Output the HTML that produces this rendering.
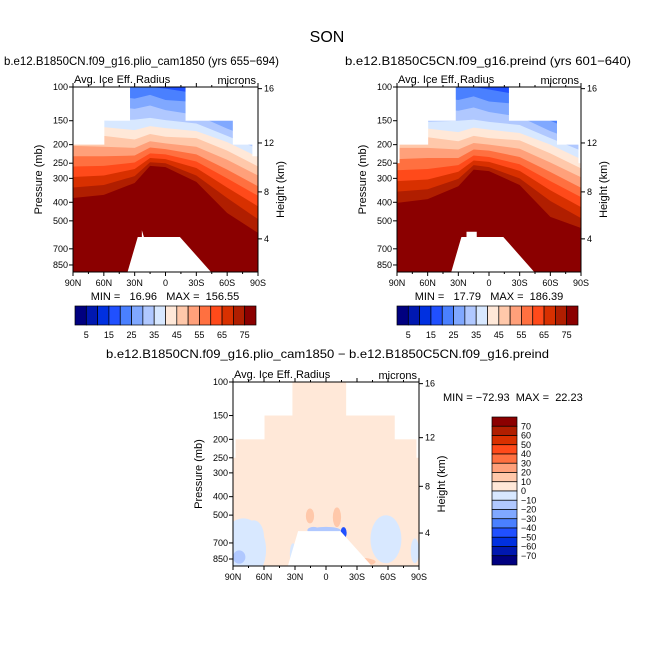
<!DOCTYPE html>
<html><head><meta charset="utf-8"><style>
body{margin:0;background:#fff}
svg{display:block;font-family:"Liberation Sans",sans-serif}
</style></head><body>
<svg id="c" width="654" height="654" viewBox="0 0 654 654" xmlns="http://www.w3.org/2000/svg">
<rect width="654" height="654" fill="#fff"/>
<text x="327" y="42" font-size="16" text-anchor="middle">SON</text>
<text x="4" y="65" font-size="12" textLength="275" lengthAdjust="spacingAndGlyphs">b.e12.B1850CN.f09_g16.plio_cam1850 (yrs 655−694)</text>
<text x="345" y="65" font-size="12" textLength="286" lengthAdjust="spacingAndGlyphs">b.e12.B1850C5CN.f09_g16.preind (yrs 601−640)</text>
<text x="106" y="358" font-size="12" textLength="443" lengthAdjust="spacingAndGlyphs">b.e12.B1850CN.f09_g16.plio_cam1850 − b.e12.B1850C5CN.f09_g16.preind</text>
<text x="165" y="300" font-size="11" text-anchor="middle" xml:space="preserve">MIN =   16.96   MAX =  156.55</text>
<text x="489" y="300" font-size="11" text-anchor="middle" xml:space="preserve">MIN =   17.79   MAX =  186.39</text>
<text x="443" y="401" font-size="11" xml:space="preserve">MIN = −72.93  MAX =  22.23</text>
<g id="root"></g>
</svg>
<script>
// ---- data ----
const lats = [90, 60, 30, 15, 0, -30, -60, -90];
const levels = [20, 25, 30, 35, 40, 45, 50, 55, 60, 65, 70, 75];
const isoLeft = [
 [100,100,100,100,102,108,130,150],
 [110,110,115,110,117,120,145,170],
 [125,125,130,125,132,140,165,190],
 [140,150,148,145,149,155,180,210],
 [160,162,168,160,164,170,194,232],
 [180,180,188,176,182,185,215,260],
 [203,205,208,192,197,205,240,290],
 [230,230,228,207,211,225,270,330],
 [260,258,248,222,225,245,300,370],
 [295,290,268,235,238,265,335,420],
 [335,325,292,247,250,290,380,490],
 [380,366,317,258,262,313,455,578]];
const isoRight = [
 [100,100,100,100,103,110,135,155],
 [112,112,117,112,119,123,150,175],
 [128,128,133,128,135,143,170,195],
 [145,152,150,148,152,158,185,215],
 [165,165,172,163,167,174,200,238],
 [185,183,192,180,185,190,222,266],
 [208,208,212,196,200,210,248,296],
 [238,235,235,212,215,232,278,336],
 [272,268,256,228,232,253,310,376],
 [310,304,277,242,246,274,346,424],
 [352,342,302,256,262,300,394,484],
 [403,385,330,270,275,325,477,545]];
const palette = ["#000080","#0018b0","#0030e0","#2050ff","#4a80ff","#80a8ff","#b0c8ff","#d8e8ff","#ffe8d8","#ffc8aa","#ffa07a","#ff7040","#ff4a1a","#d83000","#b01e00","#8b0000"];
const topLabels = [5,15,25,35,45,55,65,75];
const diffLabels = [70,60,50,40,30,20,10,0,-10,-20,-30,-40,-50,-60,-70];
const maskLeftEdges = [90,60,35,-20,-66,-85,-90];
const maskLeftTop = [200,150,100,150,200,230];
const maskRightEdges = [90,88,60,33,-20,-67,-88,-90];
const maskRightTop = [250,200,150,100,150,200,250];
const landLeftLat = [37.5,27,23,23,21,-14,-46];
const landLeftP = [925,607,607,560,607,607,925];
const landRightLat = [37.5,27,22,22,12,12,-14,-46];
const landRightP = [925,607,607,570,570,607,607,925];
const landDiffLat = [37.5,27,-14,-46];
const landDiffP = [925,607,607,925];
// diff anomaly patches: [lat, pressure, lat-radius(deg), log-p radius, bin index]
const diffPatches = [
 [80,760,22,0.38,7],[70,650,10,0.2,7],[84,830,6,0.08,6],[-58,669,15,0.29,7],[-86,770,4,0.15,7],
 [0,600,14,0.04,6],[-17,620,3,0.07,3],[12,600,6,0.04,6],
 [15.5,505,4,0.09,9],[-10.6,513,4,0.12,9],[-32,880,16,0.05,9],[32,800,3,0.13,7]];
const pLabels = [100,150,200,250,300,400,500,700,850];
const kmLabels = [16,12,8,4];
const kmP = [102,196,353,621];
const latTicks = [90,60,30,0,-30,-60,-90];
const latNames = ["90N","60N","30N","0","30S","60S","90S"];

// ---- helpers ----
const NS = "http://www.w3.org/2000/svg";
const root = document.getElementById("root");
function mk(tag, attrs, parent) {
  const e = document.createElementNS(NS, tag);
  for (const k in attrs) e.setAttribute(k, attrs[k]);
  (parent || root).appendChild(e);
  return e;
}
function makePlot(x0, y0, w, h) {
  const k = h / Math.log(9.25); // 100..925 mb
  return {x0, y0, w, h,
    x: lat => x0 + (90 - lat) / 180 * w,
    y: p => y0 + k * Math.log(p / 100), k};
}
function drawPanel(P, name, iso, mEdges, mTop, lLat, lP, diff) {
  const g = mk("g", {});
  
  
  const clipId = "clip-" + name;
  const cp = mk("clipPath", {id: clipId}, g);
  mk("rect", {x: P.x0, y: P.y0, width: P.w, height: P.h}, cp);
  const f = mk("g", {"clip-path": "url(#" + clipId + ")"}, g);
  if (!diff) {
    mk("rect", {x: P.x0, y: P.y0, width: P.w, height: P.h, fill: palette[3]}, f);
    levels.forEach((lv, i) => {
      let d = "M" + P.x(lats[0]) + "," + (P.y0 + P.h + 5);
      lats.forEach((la, j) => { d += " L" + P.x(la) + "," + P.y(iso[i][j]); });
      d += " L" + P.x(lats[lats.length - 1]) + "," + (P.y0 + P.h + 5) + "Z";
      const band = mk("path", {d, fill: palette[4 + i]}, f);
      
      
    });
  } else {
    mk("rect", {x: P.x0, y: P.y0, width: P.w, height: P.h, fill: palette[8]}, f);
    diffPatches.forEach(pt => {
      const cx = P.x(pt[0]), cy = P.y(pt[1]);
      const rx = pt[2] / 180 * P.w, ry = pt[3] * P.k;
      const el = mk("ellipse", {cx, cy, rx, ry, fill: palette[pt[4]]}, f);
      
      
    });
  }
  let d = "";
  lLat.forEach((la, i) => { d += (i ? " L" : "M") + P.x(la) + "," + (lP[i] >= 925 ? P.y0 + P.h + 2 : P.y(lP[i])); });
  const land = mk("path", {d: d + "Z", fill: "#fff"}, f);
  
  
  for (let i = 0; i < mTop.length; i++) {
    const xa = P.x(mEdges[i]), xb = P.x(mEdges[i + 1]);
    mk("rect", {x: xa - 0.5, y: P.y0 - 1, width: xb - xa + 1, height: P.y(mTop[i]) - P.y0 + 1, fill: "#fff"}, f);
  }
  mk("rect", {x: P.x0, y: P.y0, width: P.w, height: P.h, fill: "none", stroke: "#000", "stroke-width": 1}, g);
  latTicks.forEach((la, i) => {
    const x = P.x(la);
    mk("line", {x1: x, x2: x, y1: P.y0 + P.h, y2: P.y0 + P.h + 4, stroke: "#000"}, g);
    mk("line", {x1: x, x2: x, y1: P.y0, y2: P.y0 - 4, stroke: "#000"}, g);
    const t = mk("text", {x, y: P.y0 + P.h + 14, "font-size": 9, "text-anchor": "middle"}, g);
    t.textContent = latNames[i];
  });
  for (let la = 75; la > -90; la -= 15) {
    if (la % 30 === 0) continue;
    const x = P.x(la);
    mk("line", {x1: x, x2: x, y1: P.y0 + P.h, y2: P.y0 + P.h + 2, stroke: "#000"}, g);
    mk("line", {x1: x, x2: x, y1: P.y0, y2: P.y0 - 2, stroke: "#000"}, g);
  }
  pLabels.forEach(p => {
    const y = P.y(p);
    mk("line", {x1: P.x0 - 4, x2: P.x0, y1: y, y2: y, stroke: "#000"}, g);
    const t = mk("text", {x: P.x0 - 5, y: y + 3, "font-size": 9, "text-anchor": "end"}, g);
    t.textContent = p;
  });
  kmLabels.forEach((km, i) => {
    const y = P.y(kmP[i]);
    mk("line", {x1: P.x0 + P.w, x2: P.x0 + P.w + 4, y1: y, y2: y, stroke: "#000"}, g);
    const t = mk("text", {x: P.x0 + P.w + 6, y: y + 3, "font-size": 9}, g);
    t.textContent = km;
  });
  const a = mk("text", {x: P.x0 + 1, y: P.y0 - 4, "font-size": 11}, g);
  a.textContent = "Avg. Ice Eff. Radius";
  
  
  const u = mk("text", {x: P.x0 + P.w - 2, y: P.y0 - 3, "font-size": 11, "text-anchor": "end"}, g);
  u.textContent = "microns";
  const yl = mk("text", {transform: "translate(" + (P.x0 - 31) + "," + (P.y0 + P.h / 2) + ") rotate(-90)", "font-size": 11, "text-anchor": "middle"}, g);
  yl.textContent = "Pressure (mb)";
  
  
  const yr = mk("text", {transform: "translate(" + (P.x0 + P.w + 26) + "," + (P.y0 + P.h / 2 + 10) + ") rotate(-90)", "font-size": 11, "text-anchor": "middle"}, g);
  yr.textContent = "Height (km)";
  
  
}
function hColorbar(x0, y0, w, h, name) {
  const g = mk("g", {});
  
  
  const bw = w / palette.length;
  palette.forEach((c, i) => mk("rect", {x: x0 + i * bw, y: y0, width: bw, height: h, fill: c, stroke: "#000", "stroke-width": 0.7}, g));
  topLabels.forEach((v, i) => {
    const t = mk("text", {x: x0 + (1 + 2 * i) * bw, y: y0 + h + 13, "font-size": 9, "text-anchor": "middle"}, g);
    t.textContent = v;
  });
}
function vColorbar(x0, y0, w, h) {
  const g = mk("g", {});
  
  
  const bh = h / palette.length;
  palette.slice().reverse().forEach((c, i) => mk("rect", {x: x0, y: y0 + i * bh, width: w, height: bh, fill: c, stroke: "#000", "stroke-width": 0.7}, g));
  diffLabels.forEach((v, i) => {
    const t = mk("text", {x: x0 + w + 4, y: y0 + (i + 1) * bh + 3, "font-size": 9}, g);
    t.textContent = String(v).replace("-", "−");
  });
}
const PL = makePlot(73, 87, 185, 185);
const PR = makePlot(397, 87, 184, 185);
const PD = makePlot(233, 382, 186, 184);
drawPanel(PL, "plio-panel", isoLeft, maskLeftEdges, maskLeftTop, landLeftLat, landLeftP, false);
drawPanel(PR, "preind-panel", isoRight, maskRightEdges, maskRightTop, landRightLat, landRightP, false);
drawPanel(PD, "difference-panel", null, maskRightEdges, maskRightTop, landDiffLat, landDiffP, true);
hColorbar(75, 306, 181, 19, "left-colorbar");
hColorbar(397, 306, 181, 19, "right-colorbar");
vColorbar(492, 417, 25, 148);
</script>
</body></html>
